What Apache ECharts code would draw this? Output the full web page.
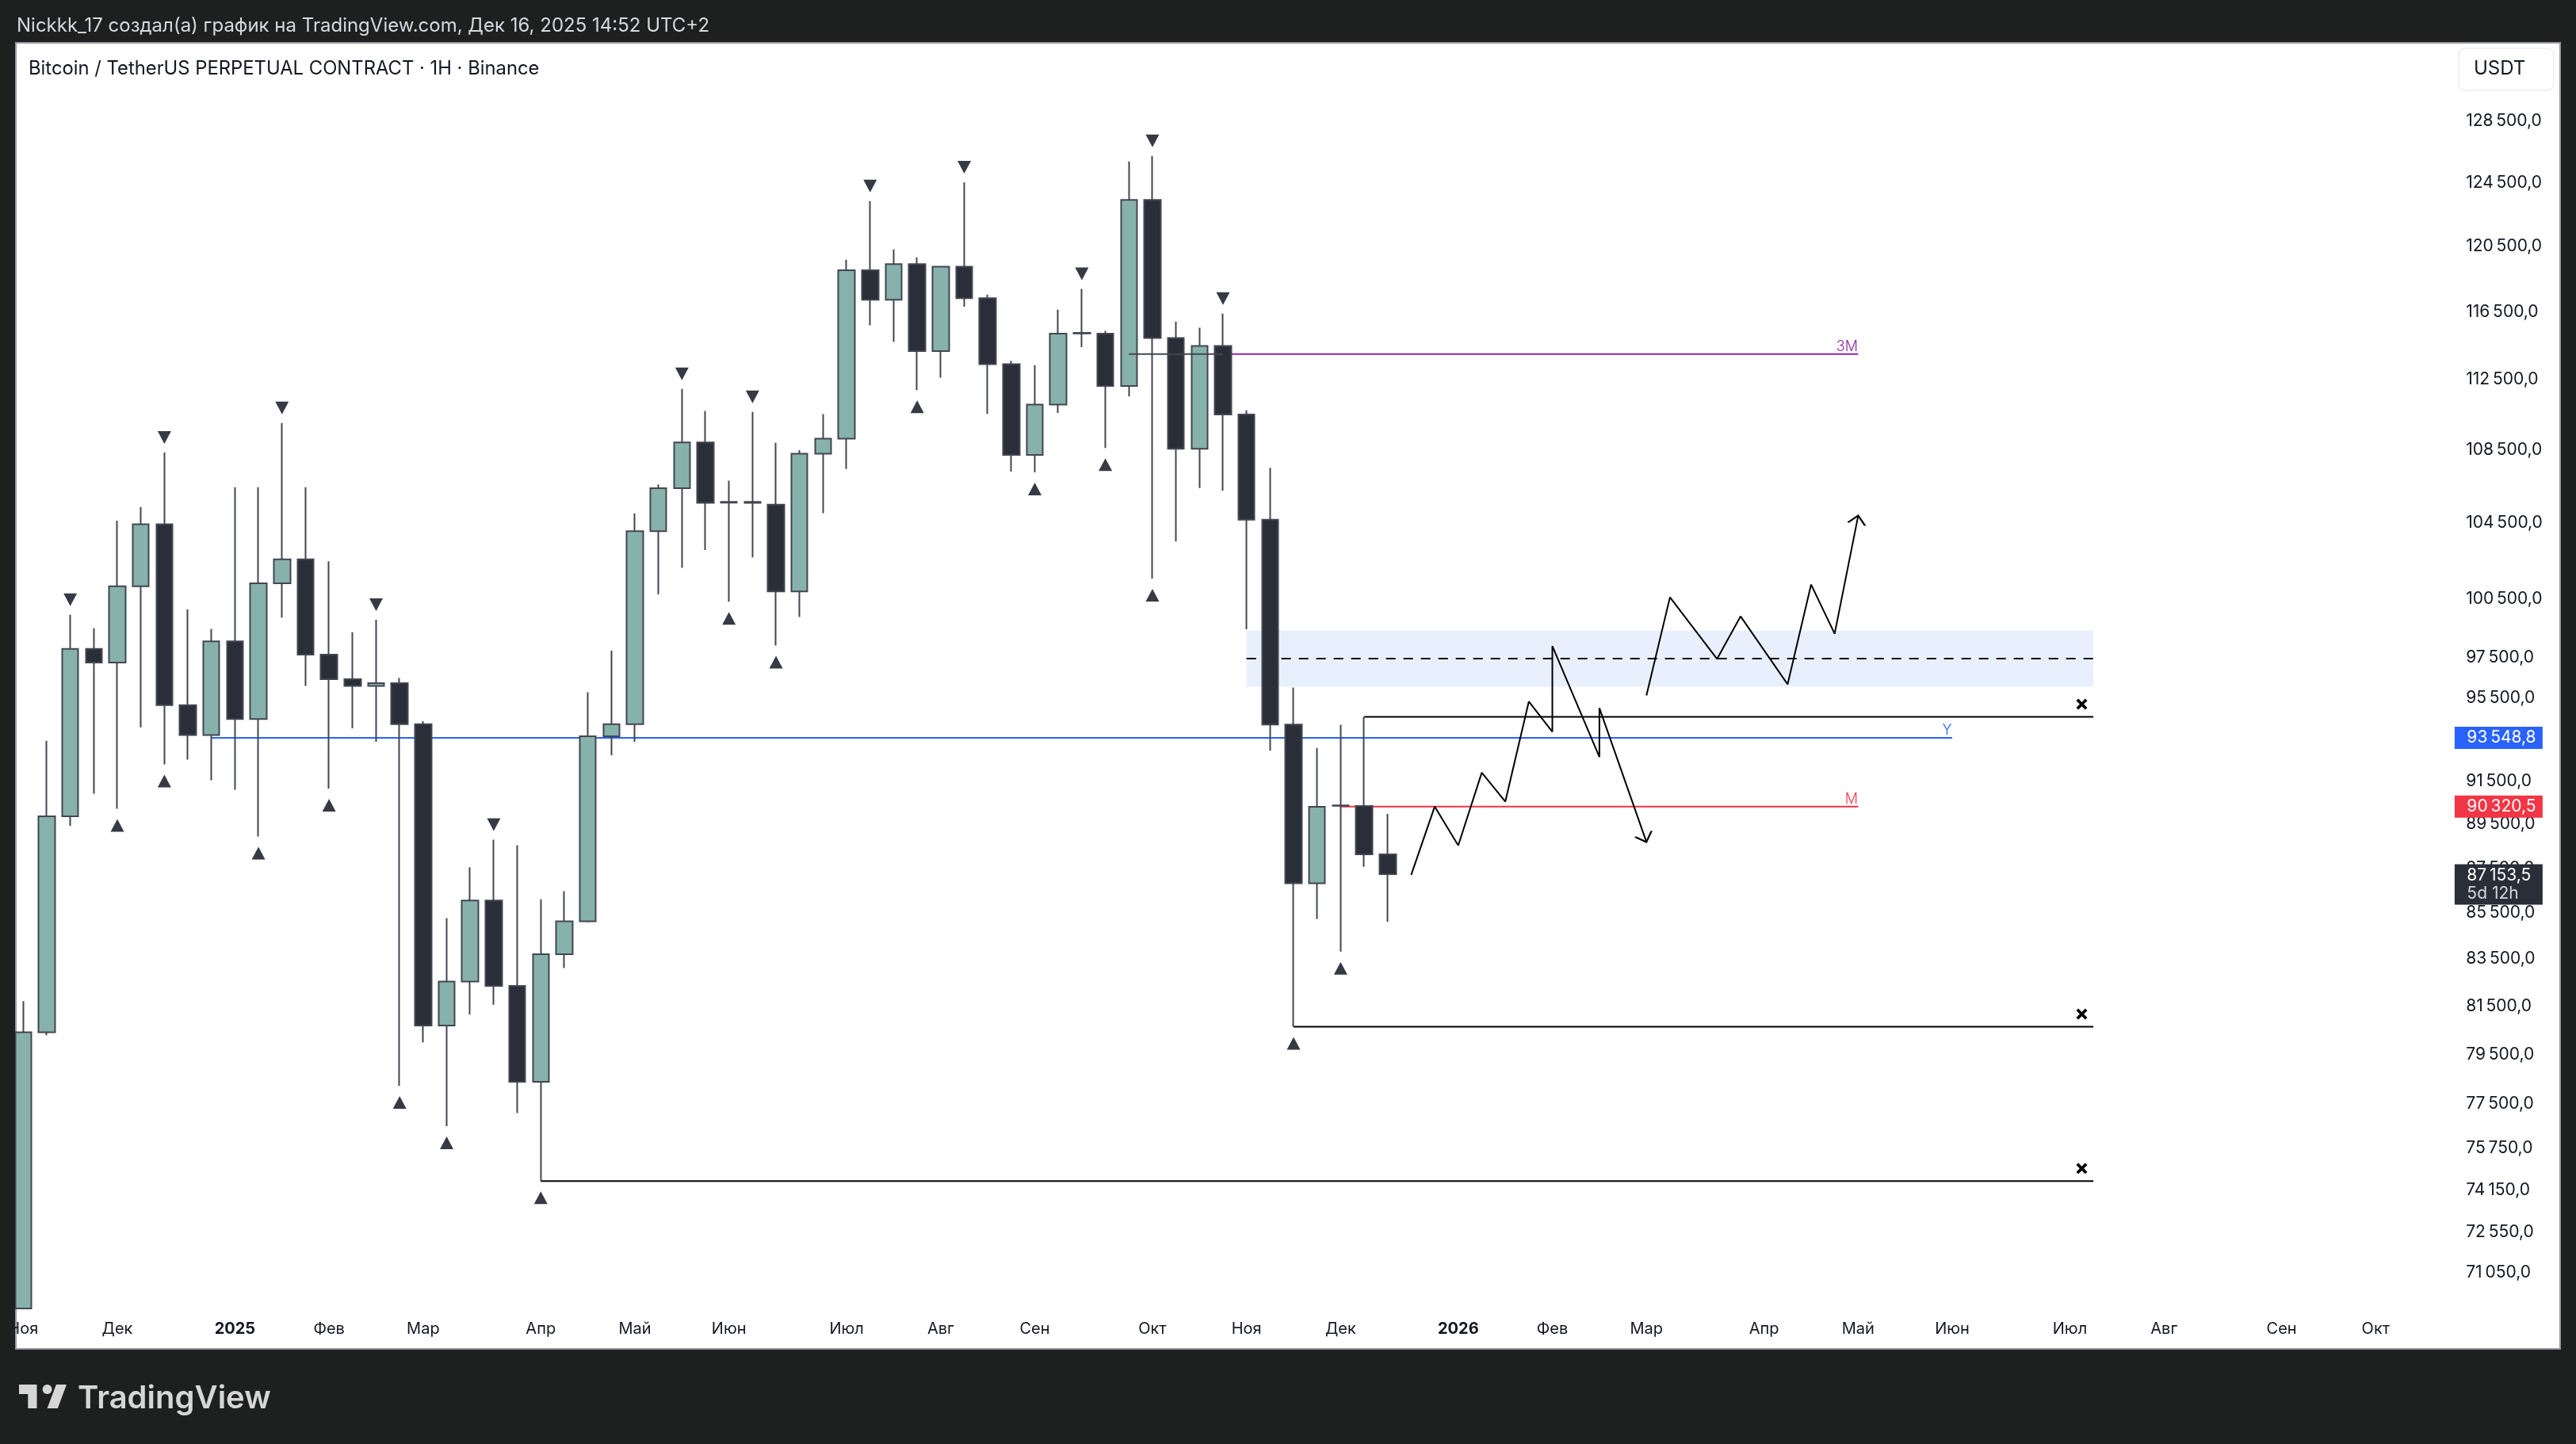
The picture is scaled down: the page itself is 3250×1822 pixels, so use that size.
<!DOCTYPE html>
<html>
<head>
<meta charset="utf-8">
<title>BTCUSDT</title>
<script src="https://cdn.jsdelivr.net/npm/echarts@6/dist/echarts.min.js"></script>
<style>
  html, body { margin: 0; padding: 0; background: #1e2020; }
  #main { width: 3250px; height: 1822px; }
</style>
</head>
<body>
<div id="main"></div>
<script>
"use strict";
// candles (first one runs off the bottom of the pane)
var opens = [69700, 80340, 89790, 97870, 97180, 101070, 104350, 95070, 93620, 98250,
  94400, 101220, 102480, 97580, 96350, 96020, 96150, 94150, 80620, 82470,
  85980, 82280, 78320, 83640, 85060, 93560, 94150, 103980, 106300, 108830,
  105560, 105560, 105410, 100800, 108210, 109050, 118920, 117120, 119290, 114070,
  119140, 117220, 113310, 108140, 110980, 115150, 115100, 112050, 123300, 114840,
  108480, 114380, 110410, 104590, 94130, 86750, 90290, 90260, 88050];
var closes = [80340, 89790, 97870, 97180, 101070, 104350, 95070, 93620, 98250, 94400,
  101220, 102480, 97580, 96350, 96020, 96150, 94150, 80620, 82470, 85980,
  82280, 78320, 83640, 85060, 93560, 94150, 103980, 106300, 108830, 105500,
  105510, 105500, 100800, 108210, 109050, 118920, 117120, 119290, 114070, 119140,
  117220, 113310, 108140, 110980, 115100, 115110, 112050, 123300, 114840, 108480,
  114380, 110410, 104590, 94130, 86750, 90230, 90270, 88050, 87153.5];
var highs = [81640, 93340, 99600, 98910, 104540, 105280, 108270, 99870, 98880, 106360,
  106360, 109930, 106360, 102380, 98710, 99340, 96410, 94290, 85200, 87460,
  88710, 88460, 86030, 86390, 95700, 97780, 104930, 106510, 111870, 110610,
  106710, 110560, 108810, 108400, 110430, 119560, 123230, 120200, 119710, 119190,
  124430, 117440, 113500, 113250, 116530, 117790, 115260, 125770, 126130, 115820,
  115450, 116290, 110650, 107420, 95940, 93000, 94120, 94500, 89900];
var lows = [69700, 80220, 89350, 90840, 90140, 93990, 92220, 92440, 91470, 91020,
  88860, 99460, 96020, 91080, 93950, 93300, 78160, 79930, 76550, 81080,
  81490, 77070, 74420, 83040, 85020, 92650, 93300, 100650, 102030, 102970,
  100270, 102590, 98040, 99490, 104950, 107360, 115600, 114620, 111810, 112520,
  116710, 110450, 107220, 107170, 110500, 114310, 108520, 111440, 101470, 103430,
  106310, 106170, 98860, 92870, 80570, 85170, 83750, 87480, 85050];

// swing markers, candle numbers
var swingHighs = [2, 6, 11, 15, 20, 28, 31, 36, 40, 45, 48, 51];
var swingLows = [4, 6, 10, 13, 16, 18, 22, 30, 32, 38, 43, 46, 48, 54, 56];

// time axis
var barCount = 104;
var monthBars = [0, 4, 9, 13, 17, 22, 26, 30, 35, 39, 43, 48, 52, 56, 61, 65, 69, 74, 78, 82, 87, 91, 96, 100];
var monthNames = ["Ноя", "Дек", "2025", "Фев", "Мар", "Апр", "Май", "Июн", "Июл", "Авг", "Сен", "Окт",
  "Ноя", "Дек", "2026", "Фев", "Мар", "Апр", "Май", "Июн", "Июл", "Авг", "Сен", "Окт"];

// price axis
var priceTicks = [128500, 124500, 120500, 116500, 112500, 108500, 104500, 100500, 97500, 95500, 93500,
  91500, 89500, 87500, 85500, 83500, 81500, 79500, 77500, 75750, 74150, 72550, 71050];
var priceMin = 69727;
var priceMax = 133685;

// drawn levels, where the lines sit on the picture
var yearLevel = 93490;
var monthLevel = 90240;
var quarterLevel = 113900;
var lowLevels = [[22, 74420], [54, 80570]];
var highLevel = [57, 94500];
var levelEnd = 88;
var zoneTop = 98790;
var zoneBottom = 95980;
var zoneMid = 97380;

// price tags
var yearTag = 93548.8;
var monthTag = 90320.5;
var lastPrice = 87153.5;

// hand drawn paths
var downPathBars = [59, 60, 61, 62, 63, 64, 65, 65, 67, 67, 69];
var downPathPrices = [87120, 90240, 88450, 91830, 90470, 95250, 93780, 98010, 92570, 94930, 88610];
var upPathBars = [69, 70, 72, 73, 75, 76, 77, 78];
var upPathPrices = [95550, 100500, 97360, 99520, 96100, 101160, 98630, 104800];

var chartDom = document.getElementById("main");
var myChart = echarts.init(chartDom);

var categories = [];
for (let i = 0; i < barCount; i++) {
  let at = monthBars.indexOf(i);
  categories.push(at >= 0 ? monthNames[at] : "");
}

function formatPrice(v) {
  let s = Number(v).toFixed(1).split(".");
  return s[0].replace(/\B(?=(\d{3})+$)/g, "\u2009") + "," + s[1];
}

function zip(xs, ys) {
  return xs.map(function (x, i) {
    return [x, ys[i]];
  });
}

function lineSeries(data, color, width, z) {
  return {
    type: "line",
    data: data,
    z: z || 1.5,
    showSymbol: false,
    silent: true,
    lineStyle: { color: color, width: width },
  };
}

function textSeries(bar, price, text, color) {
  return {
    type: "scatter",
    data: [[bar, price]],
    z: 3,
    symbolSize: 1,
    silent: true,
    itemStyle: { color: "transparent", opacity: 1 },
    label: {
      show: true,
      formatter: text,
      position: "left",
      distance: 0,
      offset: [0, -9],
      color: color,
      fontFamily: "Inter",
      fontSize: 18,
      fontWeight: 300,
    },
  };
}

function tagSeries(price, text, color, height, shift, extra) {
  return {
    type: "scatter",
    data: [[barCount - 1, price]],
    z: 6,
    clip: false,
    silent: true,
    symbol: "rect",
    symbolSize: [111, height],
    symbolOffset: [66, shift],
    itemStyle: { color: color, opacity: 1 },
    label: Object.assign({
      show: true,
      formatter: text,
      position: "inside",
      align: "left",
      offset: [-40, 0],
      color: "#fff",
      fontFamily: "Inter",
      fontSize: 21,
      lineHeight: 23,
    }, extra || {}),
  };
}

function triangleSeries(bars, values, rotate, offset) {
  return {
    type: "scatter",
    data: bars.map(function (b) {
      return [b, values[b]];
    }),
    z: 3,
    silent: true,
    symbol: "triangle",
    symbolSize: [17, 16],
    symbolRotate: rotate,
    symbolOffset: [0, offset],
    itemStyle: { color: "#363a45", opacity: 1 },
  };
}

function arrowHead(bar, price, rotate, offset) {
  return {
    type: "scatter",
    data: [[bar, price]],
    z: 3,
    silent: true,
    symbol: "path://M0 10L10 0L20 10",
    symbolSize: [22, 11],
    symbolRotate: rotate,
    symbolOffset: offset,
    itemStyle: { color: "none", borderColor: "#000", borderWidth: 2, opacity: 1 },
  };
}

var xMark = "path://M3 0L8 5L13 0L16 3L11 8L16 13L13 16L8 11L3 16L0 13L5 8L0 3Z";
var crossData = [[levelEnd - 1, highLevel[1]]].concat(lowLevels.map(function (l) {
  return [levelEnd - 1, l[1]];
}));

var series = [
  {
    type: "line",
    data: [[52, zoneMid], [levelEnd, zoneMid]],
    z: 1,
    showSymbol: false,
    silent: true,
    lineStyle: { color: "#000", width: 2, type: [12, 10] },
    markArea: {
      silent: true,
      z: 1,
      itemStyle: { color: "#e9f0fd", opacity: 1 },
      data: [[{ xAxis: 52, yAxis: zoneTop }, { xAxis: levelEnd, yAxis: zoneBottom }]],
    },
  },
  lineSeries([[8, yearLevel], [82, yearLevel]], "#2962ff", 2),
  lineSeries([[56, monthLevel], [78, monthLevel]], "#f23645", 2),
  lineSeries([[51, quarterLevel], [78, quarterLevel]], "#8e24aa", 2),
  lineSeries([[47, quarterLevel], [51, quarterLevel]], "#434651", 2, 2.5),
  lineSeries([highLevel, [levelEnd, highLevel[1]]], "#000", 2),
  lineSeries([lowLevels[0], [levelEnd, lowLevels[0][1]]], "#000", 2),
  lineSeries([lowLevels[1], [levelEnd, lowLevels[1][1]]], "#000", 2),
  lineSeries(zip(downPathBars, downPathPrices), "#000", 2),
  lineSeries(zip(upPathBars, upPathPrices), "#000", 2),
  arrowHead(69, downPathPrices[downPathPrices.length - 1], 200, [-2, -5]),
  arrowHead(78, upPathPrices[upPathPrices.length - 1], -11, [-1, 5]),
  {
    type: "candlestick",
    z: 2,
    silent: true,
    barWidth: 21,
    data: opens.map(function (o, i) {
      return [o, closes[i], lows[i], highs[i]];
    }),
    itemStyle: {
      color: "#87b2ab",
      color0: "#2a2e39",
      borderColor: "#434651",
      borderColor0: "#434651",
      borderColorDoji: "#434651",
      borderWidth: 2,
    },
  },
  triangleSeries(swingHighs, highs, 180, -19),
  triangleSeries(swingLows, lows, 0, 21),
  {
    type: "scatter",
    data: crossData,
    z: 3,
    silent: true,
    symbol: xMark,
    symbolSize: 14,
    symbolOffset: [15, -16],
    itemStyle: { color: "#000", opacity: 1 },
  },
  textSeries(82, yearLevel, "Y", "#2962ff"),
  textSeries(78, monthLevel, "M", "#f23645"),
  textSeries(78, quarterLevel, "3M", "#8e24aa"),
  tagSeries(yearLevel, formatPrice(yearTag), "#2962ff", 28, 0),
  tagSeries(monthLevel, formatPrice(monthTag), "#f23645", 28, 0),
  tagSeries(lastPrice, "{p|" + formatPrice(lastPrice) + "}\n{t|5d 12h}", "#2a2e39", 51, 13, {
    rich: {
      p: { color: "#fff", fontFamily: "Inter", fontSize: 21, lineHeight: 23 },
      t: { color: "#d1d4dc", fontFamily: "Inter", fontSize: 21, lineHeight: 23 },
    },
  }),
];

var option = {
  animation: false,
  backgroundColor: "#1e2020",
  textStyle: { fontFamily: "Inter" },
  grid: { left: 14.46, right: 148.8, top: 54, bottom: 172, containLabel: false },
  xAxis: {
    type: "category",
    data: categories,
    boundaryGap: true,
    axisLine: { show: false },
    axisTick: { show: false },
    splitLine: { show: false },
    axisLabel: {
      interval: 0,
      margin: 17,
      color: "#131722",
      fontFamily: "Inter",
      fontSize: 20,
      hideOverlap: false,
      formatter: function (v) {
        return /^\d+$/.test(v) ? "{y|" + v + "}" : v;
      },
      rich: { y: { fontWeight: 700, fontSize: 20, fontFamily: "Inter", color: "#131722" } },
    },
  },
  yAxis: {
    type: "log",
    logBase: 10,
    position: "right",
    min: priceMin,
    max: priceMax,
    axisLine: { show: false },
    axisTick: { show: false },
    splitLine: { show: false },
    minorTick: { show: false },
    axisLabel: {
      customValues: priceTicks,
      margin: 10,
      verticalAlign: "top",
      lineHeight: 4,
      color: "#131722",
      fontFamily: "Inter",
      fontSize: 21,
      formatter: formatPrice,
    },
  },
  series: series,
  graphic: {
    elements: [
      {
        type: "rect",
        z: -10,
        shape: { x: 20, y: 54, width: 3210, height: 1648 },
        style: { fill: "#fff", stroke: "#9598a1", lineWidth: 2 },
      },
      {
        type: "rect",
        z: 50,
        shape: { x: 0, y: 54, width: 19, height: 1650 },
        style: { fill: "#1e2020" },
      },
      {
        type: "text",
        z: 60,
        style: {
          text: "Nickkk_17 создал(а) график на TradingView.com, Дек 16, 2025 14:52 UTC+2",
          x: 21, y: 33, verticalAlign: "middle",
          fill: "#d6d8de", font: "24px Inter",
        },
      },
      {
        type: "text",
        z: 60,
        style: {
          text: "Bitcoin / TetherUS PERPETUAL CONTRACT · 1H · Binance",
          x: 36, y: 87, verticalAlign: "middle",
          fill: "#131722", font: "23.8px Inter",
        },
      },
      {
        type: "rect",
        z: 60,
        shape: { x: 3102, y: 61, width: 120, height: 53, r: 8 },
        style: { fill: "#fff", stroke: "#eef1fa", lineWidth: 2 },
      },
      {
        type: "text",
        z: 61,
        style: {
          text: "USDT", x: 3121, y: 87, verticalAlign: "middle",
          fill: "#131722", font: "24px Inter",
        },
      },
      // logo
      {
        type: "polygon",
        z: 60,
        shape: { points: [[46.5, 1747], [24, 1747], [24, 1759], [35.3, 1759], [35.3, 1777], [46.5, 1777]] },
        style: { fill: "#d6d6d6" },
      },
      {
        type: "polygon",
        z: 60,
        shape: { points: [[72.8, 1777], [59.6, 1777], [70.9, 1747], [84, 1747]] },
        style: { fill: "#d6d6d6" },
      },
      {
        type: "circle",
        z: 60,
        shape: { cx: 59.6, cy: 1753, r: 6 },
        style: { fill: "#d6d6d6" },
      },
      {
        type: "text",
        z: 60,
        style: {
          text: "TradingView", x: 98, y: 1765, verticalAlign: "middle",
          fill: "#d6d6d6", font: "600 40px Inter",
        },
      },
    ],
  },
};

option && myChart.setOption(option);
</script>
</body>
</html>
